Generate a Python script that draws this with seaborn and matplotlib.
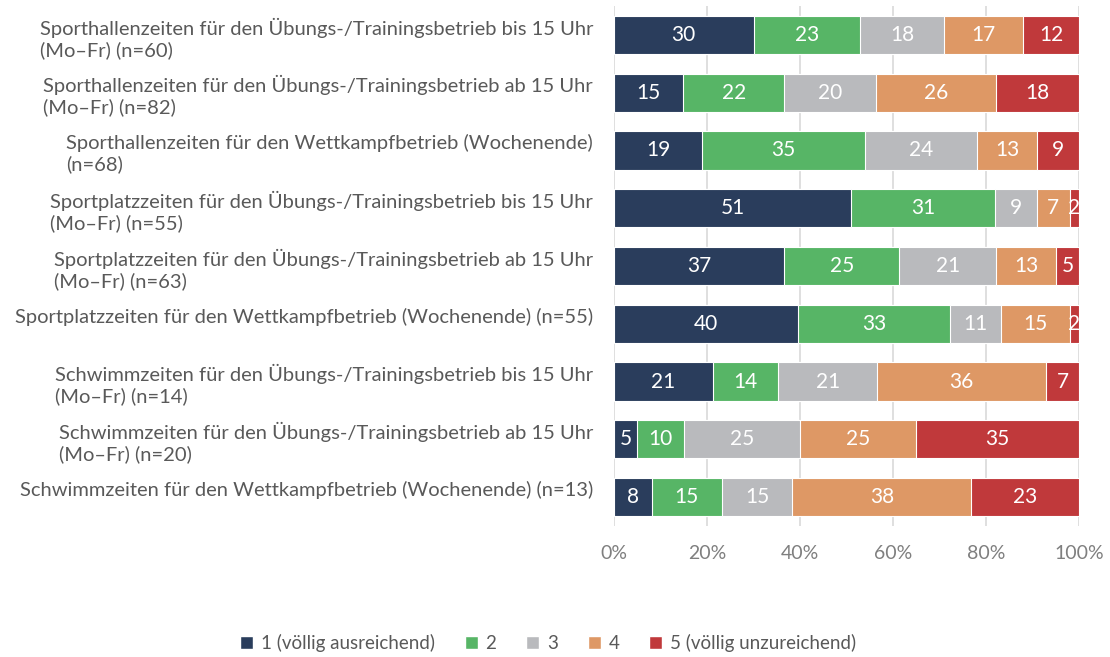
import numpy as np
import pandas as pd
import matplotlib
matplotlib.use('Agg')
import matplotlib.pyplot as plt
import seaborn as sns
from matplotlib.patches import Patch

# data (percent per rating, rows top -> bottom)
labels = [
    'Sporthallenzeiten für den Übungs-/Trainingsbetrieb bis 15 Uhr\n(Mo–Fr) (n=60)',
    'Sporthallenzeiten für den Übungs-/Trainingsbetrieb ab 15 Uhr\n(Mo–Fr) (n=82)',
    'Sporthallenzeiten für den Wettkampfbetrieb (Wochenende)\n(n=68)',
    'Sportplatzzeiten für den Übungs-/Trainingsbetrieb bis 15 Uhr\n(Mo–Fr) (n=55)',
    'Sportplatzzeiten für den Übungs-/Trainingsbetrieb ab 15 Uhr\n(Mo–Fr) (n=63)',
    'Sportplatzzeiten für den Wettkampfbetrieb (Wochenende) (n=55)\n',
    'Schwimmzeiten für den Übungs-/Trainingsbetrieb bis 15 Uhr\n(Mo–Fr) (n=14)',
    'Schwimmzeiten für den Übungs-/Trainingsbetrieb ab 15 Uhr\n(Mo–Fr) (n=20)',
    'Schwimmzeiten für den Wettkampfbetrieb (Wochenende) (n=13)\n',
]
r1 = [30, 15, 19, 51, 37, 40, 21, 5, 8]
r2 = [23, 22, 35, 31, 25, 33, 14, 10, 15]
r3 = [18, 20, 24, 9, 21, 11, 21, 25, 15]
r4 = [17, 26, 13, 7, 13, 15, 36, 25, 38]
r5 = [12, 18, 9, 2, 5, 2, 7, 35, 23]
series_names = ['1 (völlig ausreichend)', '2', '3', '4', '5 (völlig unzureichend)']
colors = ['#2a3d5c', '#57b566', '#b9babd', '#de9865', '#c0393b']

sns.set_theme(style='white')
plt.rcParams['font.family'] = ['Lato', 'DejaVu Sans']

df = pd.DataFrame({'label': labels, '1': r1, '2': r2, '3': r3, '4': r4, '5': r5})
cols = ['1', '2', '3', '4', '5']
tot = df[cols].sum(axis=1)
share = df[cols].div(tot, axis=0) * 100
cum = share.cumsum(axis=1)

fig = plt.figure(figsize=(11.1, 6.57), dpi=100)
ax = fig.add_axes([614/1110, 1-526/657, 465/1110, 520/657])

# stacked bars: draw cumulative totals from the back
for i in range(4, -1, -1):
    sns.barplot(x=cum[cols[i]], y=df['label'], orient='h', color=colors[i],
                width=0.66, edgecolor='white', linewidth=0.8, saturation=1, ax=ax, zorder=3)

for r in range(len(df)):
    left = 0
    for i, c in enumerate(cols):
        w = share.loc[r, c]
        ax.text(left + w/2, r, str(df.loc[r, c]), ha='center', va='center',
                color='white', fontsize=15, zorder=5)
        left += w

ax.set_xlim(0, 100)
ax.set_xticks([0, 20, 40, 60, 80, 100])
ax.set_xticklabels([f'{t}%' for t in [0, 20, 40, 60, 80, 100]], fontsize=14, color='#7f7f7f')
ax.set_ylabel('')
ax.set_xlabel('')
ax.tick_params(axis='x', length=0, pad=14)
ax.tick_params(axis='y', length=0, pad=15)
ax.set_yticks(range(len(df)))
ax.set_yticklabels(labels, fontsize=14.5, color='#595959', multialignment='left',
                   linespacing=1.22)
ax.grid(axis='x', color='#d9d9d9', linewidth=1.2, zorder=0)
ax.set_axisbelow(True)
sns.despine(ax=ax, left=True, bottom=True)

handles = [Patch(facecolor=colors[i], label=series_names[i]) for i in range(5)]
leg = fig.legend(handles=handles, loc='center', bbox_to_anchor=(548/1110, 1-643/657), ncol=5,
                 frameon=False, fontsize=13.5, handlelength=0.7,
                 handleheight=0.7, handletextpad=0.4, columnspacing=1.6)
for t in leg.get_texts():
    t.set_color('#595959')

fig.savefig('out.png', dpi=100)
